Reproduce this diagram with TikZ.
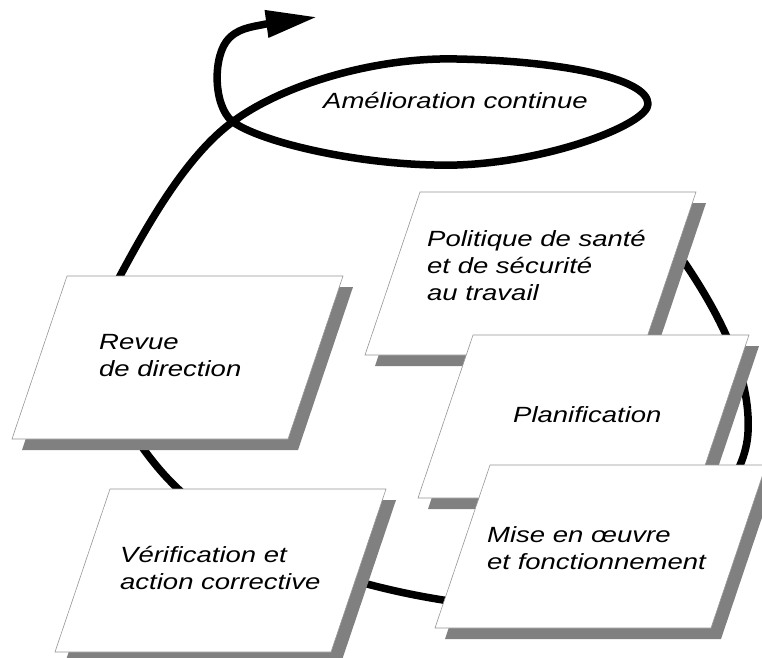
\documentclass[tikz,border=0pt]{standalone}
\usepackage{fontspec}
\setmainfont{Liberation Sans}
\newfontfamily\labelfont[FakeStretch=1.25]{Liberation Sans}
\usetikzlibrary{arrows.meta}

\definecolor{shadowgray}{RGB}{128,128,128}
\definecolor{rimgray}{RGB}{150,150,150}

\tikzset{
  cycleline/.style={line width=7.5pt, line cap=butt, line join=round},
  % slanted card with its drop shadow; the pic origin is the top-left corner
  panel/.pic={
    \fill[fill=shadowgray] (10,11) -- ++(276,0) -- ++(-55,163) -- ++(-276,0) -- cycle;
    \filldraw[fill=white, draw=rimgray, line width=0.6pt]
      (0,0) -- (276,0) -- (221,163) -- (-55,163) -- cycle;
  },
  caption/.style={anchor=base west, inner sep=0pt,
    font=\labelfont\itshape\fontsize{22}{27}\selectfont},
}

\newcommand{\lines}[1]{\begin{tabular}[t]{@{}l@{}}#1\end{tabular}}

\begin{document}
\begin{tikzpicture}[x=1pt, y=-1pt]
  \useasboundingbox (0,0) rectangle (762,657);
  \clip (0,0) rectangle (762,657);
  \fill[white] (0,0) rectangle (762,657);

  % the improvement loop, running behind the cards
  \coordinate (start) at (650,215);
  \coordinate (tip) at (317,17);
  \draw[cycleline, -{Triangle[length=51pt, width=26pt]}]
    (start) .. controls (700,280) and (752,360) .. (748,432)
    .. controls (744,520) and (593,625) .. (443,600)
    .. controls (330,582) and (220,540) .. (160,470)
    .. controls (100,400) and (90,330) .. (120,276)
    .. controls (150,220) and (190,150) .. (238,118)
    .. controls (290,82) and (380,57) .. (457,59)
    .. controls (560,61) and (648,78) .. (648,104)
    .. controls (648,124) and (550,162) .. (457,165)
    .. controls (370,167) and (270,145) .. (236,124)
    .. controls (214,112) and (212,62) .. (226,42)
    .. controls (236,28) and (252,27) .. (266,24)
    -- (tip);

  \node[caption] (improve) at (323,108) {Amélioration continue};

  % cards
  \pic at (420,192) {panel};
  \node[caption] (policy) at (427,246) {\lines{Politique de santé\\et de sécurité\\au travail}};

  \pic at (473,335) {panel};
  \node[caption] (plan) at (513,422) {Planification};

  \pic at (490,465) {panel};
  \node[caption] (implement) at (487,542) {\lines{Mise en œuvre\\et fonctionnement}};

  \pic at (110,489) {panel};
  \node[caption] (check) at (120,562) {\lines{Vérification et\\action corrective}};

  \pic at (67,276) {panel};
  \node[caption] (review) at (99,349) {\lines{Revue\\de direction}};
\end{tikzpicture}
\end{document}
